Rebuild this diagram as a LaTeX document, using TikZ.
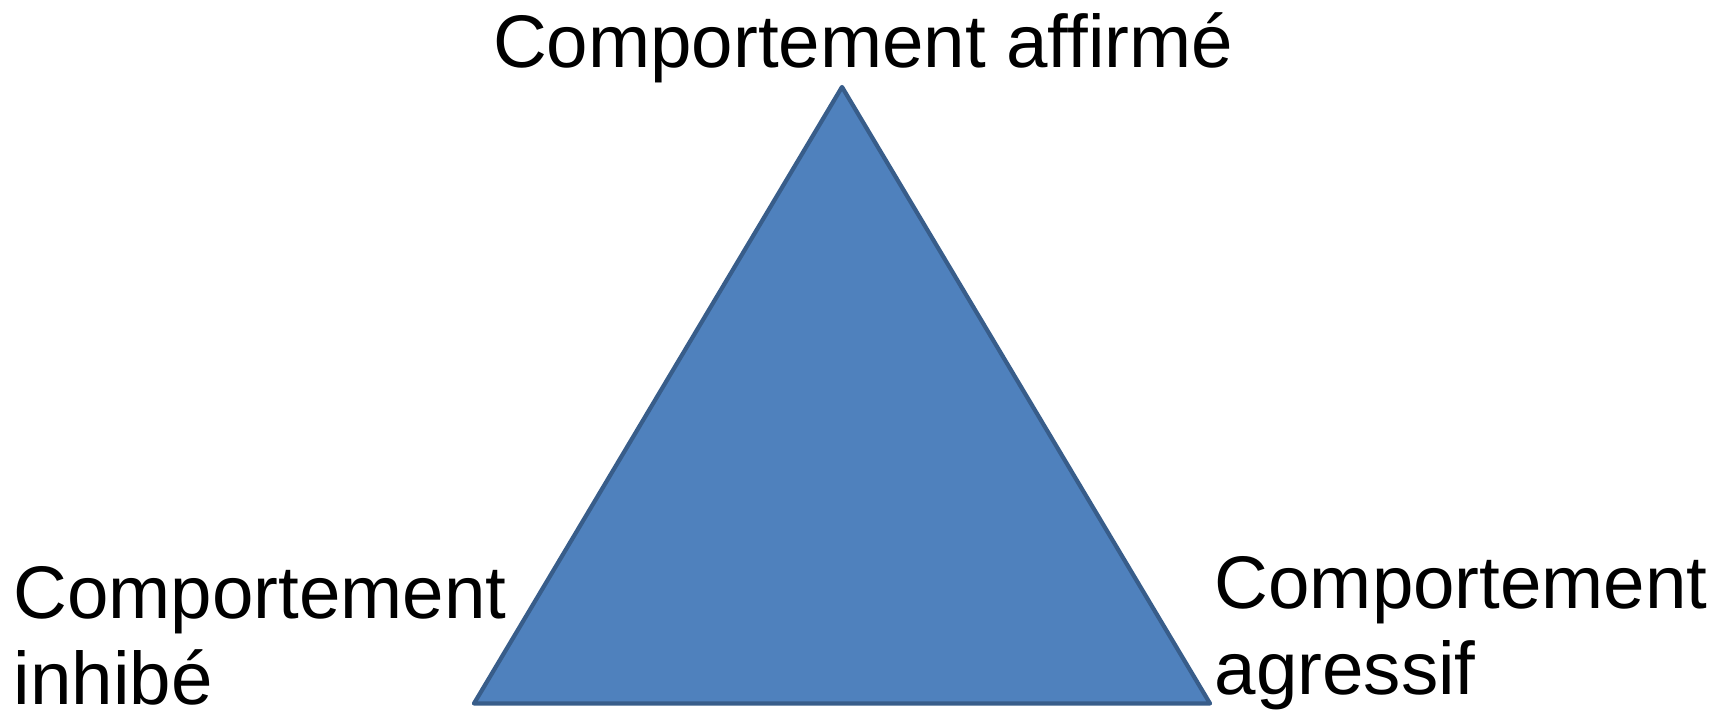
\documentclass[tikz,border=0pt]{standalone}
\usepackage{fontspec}
\setmainfont{Liberation Sans}
\definecolor{TriFill}{RGB}{79,129,189}
\definecolor{TriEdge}{RGB}{56,93,138}

\begin{document}
\begin{tikzpicture}[
    x=1cm, y=1cm,
    label/.style={font=\fontsize{21.2}{24.5}\selectfont, inner sep=0pt,
                  align=left},
    tri/.style={fill=TriFill, draw=TriEdge, line width=1.2pt,
                line join=round}
  ]
    \useasboundingbox (0,0) rectangle (17.29,7.14);
    % corners of the triangle
    \coordinate (apex)  at (8.42,6.27);
    \coordinate (left)  at (4.74,0.105);
    \coordinate (right) at (12.10,0.105);
    \draw[tri] (apex) -- (right) -- (left) -- cycle;
    % the three behaviours
    \node[label, anchor=base] (affirme) at (8.63,6.46) {Comportement affirmé};
    \node[label, anchor=base west] (inhibe) at (0.13,0.09)
         {Comportement\\inhibé};
    \node[label, anchor=base west] (agressif) at (12.14,0.19)
         {Comportement\\agressif};
  \end{tikzpicture}
\end{document}
